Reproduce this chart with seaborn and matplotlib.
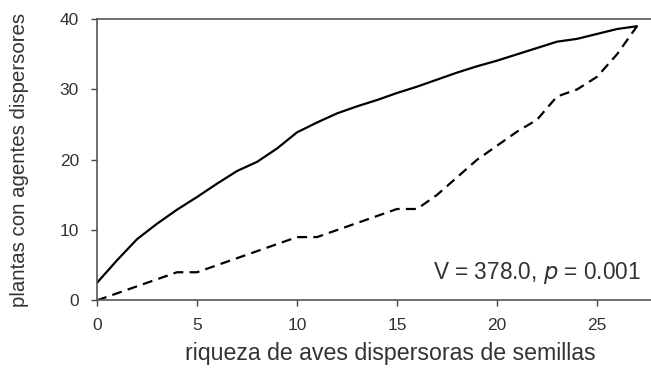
import matplotlib
matplotlib.use("Agg")
import matplotlib.pyplot as plt
import seaborn as sns
import pandas as pd

riqueza = list(range(28))
observado = [2.5, 5.7, 8.7, 10.9, 12.9, 14.7, 16.6, 18.4, 19.7, 21.6, 23.9, 25.3, 26.6, 27.6,
             28.5, 29.5, 30.4, 31.4, 32.4, 33.3, 34.1, 35.0, 35.9, 36.8, 37.2, 37.9, 38.6, 39.0]
nulo = [0, 1, 2, 3, 4, 4, 5, 6, 7, 8, 9, 9, 10, 11,
        12, 13, 13, 15, 17.5, 20, 22, 24, 25.7, 29, 30, 31.8, 35, 39]
x_ticks = [0, 5, 10, 15, 20, 25]
y_ticks = [0, 10, 20, 30, 40]

sns.set_theme(style="white")
plt.rcParams['font.family'] = ['Liberation Sans', 'DejaVu Sans']

df = pd.DataFrame({"x": riqueza, "obs": observado, "nul": nulo})

fig = plt.figure(figsize=(6.51, 3.69), dpi=100)
ax = fig.add_axes([0.149, 0.186, 0.851, 0.762])

sns.lineplot(data=df, x="x", y="obs", ax=ax, color="black", lw=1.6)
sns.lineplot(data=df, x="x", y="nul", ax=ax, color="black", lw=1.6, dashes=False)
ax.lines[1].set_dashes([4.5, 2.8])

ax.set_xlim(0, 27.7)
ax.set_ylim(0, 40)
ax.set_xticks(x_ticks)
ax.set_yticks(y_ticks)
tc = "#333333"
ax.tick_params(axis="both", direction="out", length=4, width=1, colors="#444444",
               labelsize=12.5, labelcolor=tc, bottom=True, left=True)
ax.tick_params(axis="x", pad=9)
ax.tick_params(axis="y", pad=9)
for s in ["left", "bottom", "top"]:
    ax.spines[s].set_color("#555555")
    ax.spines[s].set_linewidth(1.2)
ax.spines["right"].set_visible(False)

ax.set_xlabel("riqueza de aves dispersoras de semillas", fontsize=16.7, color=tc)
ax.set_ylabel("plantas con agentes dispersores", fontsize=14.7, color=tc)
ax.xaxis.set_label_coords(0.529, -0.148)
ax.yaxis.set_label_coords(-0.122, 0.5)

ax.text(0.981, 0.075, "V = 378.0, $\\it{p}$ = 0.001", transform=ax.transAxes,
        ha="right", va="baseline", fontsize=16.3, color=tc)

fig.savefig("out.png", dpi=100)
